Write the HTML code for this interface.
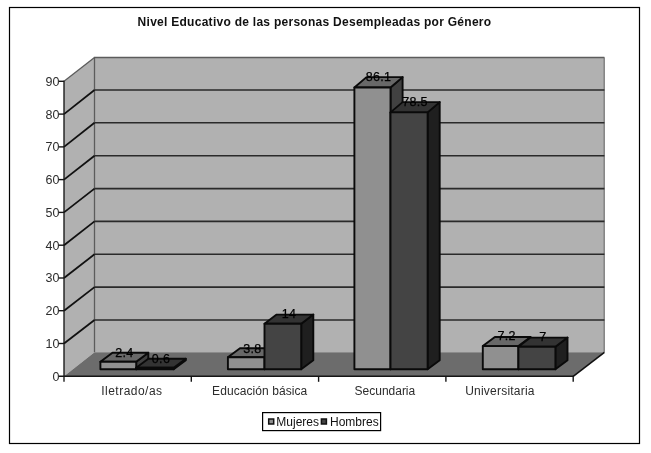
<!DOCTYPE html>
<html><head><meta charset="utf-8"><title>Chart</title>
<style>
html,body{margin:0;padding:0;background:#fff;}
body{width:651px;height:453px;position:relative;overflow:hidden;font-family:"Liberation Sans",sans-serif;}
svg text{font-family:"Liberation Sans",sans-serif;fill:#222;}
.dl{font-size:12.5px;fill:#000;stroke:#000;stroke-width:0.25px;letter-spacing:0.3px;}
.yl{font-size:12.5px;fill:#2c2c2c;}
.cl{font-size:12px;fill:#2c2c2c;}
.lg{font-size:12px;fill:#111;}
.ti{font-size:12px;font-weight:bold;fill:#111;}
</style></head><body>
<svg width="651" height="453" viewBox="0 0 651 453" style="position:absolute;left:0;top:0;will-change:transform">
<rect x="9.5" y="7.5" width="630" height="436" fill="#fff" stroke="#000" stroke-width="1.2"/>
<rect x="94.5" y="57.5" width="509.9" height="294.8" fill="#b1b1b1"/>
<polygon points="64.0,81.3 94.5,57.5 94.5,352.3 64.0,376.3" fill="#b1b1b1"/>
<polyline points="94.5,352.3 94.5,57.5 604.4,57.5" fill="none" stroke="#5c5c5c" stroke-width="1.3"/>
<line x1="604.2" y1="57.5" x2="604.2" y2="352.3" stroke="#6a6a6a" stroke-width="1.1"/>
<line x1="64.0" y1="81.3" x2="94.5" y2="57.5" stroke="#5c5c5c" stroke-width="1.3"/>
<polygon points="64.0,376.3 94.5,352.3 604.4,352.3 573.2,376.3" fill="#6c6c6c"/>
<line x1="94.5" y1="320.0" x2="604.4" y2="320.0" stroke="#2a2a2a" stroke-width="1.6"/>
<line x1="64.0" y1="343.5" x2="94.5" y2="320.0" stroke="#111" stroke-width="1.8"/>
<line x1="94.5" y1="287.1" x2="604.4" y2="287.1" stroke="#2a2a2a" stroke-width="1.6"/>
<line x1="64.0" y1="310.7" x2="94.5" y2="287.1" stroke="#111" stroke-width="1.8"/>
<line x1="94.5" y1="254.3" x2="604.4" y2="254.3" stroke="#2a2a2a" stroke-width="1.6"/>
<line x1="64.0" y1="278.0" x2="94.5" y2="254.3" stroke="#111" stroke-width="1.8"/>
<line x1="94.5" y1="221.4" x2="604.4" y2="221.4" stroke="#2a2a2a" stroke-width="1.6"/>
<line x1="64.0" y1="245.2" x2="94.5" y2="221.4" stroke="#111" stroke-width="1.8"/>
<line x1="94.5" y1="188.6" x2="604.4" y2="188.6" stroke="#2a2a2a" stroke-width="1.6"/>
<line x1="64.0" y1="212.4" x2="94.5" y2="188.6" stroke="#111" stroke-width="1.8"/>
<line x1="94.5" y1="155.7" x2="604.4" y2="155.7" stroke="#2a2a2a" stroke-width="1.6"/>
<line x1="64.0" y1="179.6" x2="94.5" y2="155.7" stroke="#111" stroke-width="1.8"/>
<line x1="94.5" y1="122.8" x2="604.4" y2="122.8" stroke="#2a2a2a" stroke-width="1.6"/>
<line x1="64.0" y1="146.9" x2="94.5" y2="122.8" stroke="#111" stroke-width="1.8"/>
<line x1="94.5" y1="90.0" x2="604.4" y2="90.0" stroke="#2a2a2a" stroke-width="1.6"/>
<line x1="64.0" y1="114.1" x2="94.5" y2="90.0" stroke="#111" stroke-width="1.8"/>
<line x1="573.2" y1="376.3" x2="604.4" y2="352.3" stroke="#111" stroke-width="1.6"/>
<polygon points="136.2,361.8 148.3,352.8 148.3,360.3 136.2,369.3" fill="#414141" stroke="#0a0a0a" stroke-width="1.9" stroke-linejoin="round"/>
<polygon points="100.4,361.8 112.5,352.8 148.3,352.8 136.2,361.8" fill="#686868" stroke="#0a0a0a" stroke-width="1.9" stroke-linejoin="round"/>
<rect x="100.4" y="361.8" width="35.8" height="7.5" fill="#909090" stroke="#0a0a0a" stroke-width="1.9" stroke-linejoin="round"/>
<polygon points="173.7,367.7 185.8,358.7 185.8,360.3 173.7,369.3" fill="#1f1f1f" stroke="#0a0a0a" stroke-width="1.9" stroke-linejoin="round"/>
<polygon points="136.2,367.7 148.3,358.7 185.8,358.7 173.7,367.7" fill="#333333" stroke="#0a0a0a" stroke-width="1.9" stroke-linejoin="round"/>
<rect x="136.2" y="367.7" width="37.5" height="1.6" fill="#444444" stroke="#0a0a0a" stroke-width="1.9" stroke-linejoin="round"/>
<polygon points="264.5,357.2 276.6,348.2 276.6,360.3 264.5,369.3" fill="#414141" stroke="#0a0a0a" stroke-width="1.9" stroke-linejoin="round"/>
<polygon points="227.9,357.2 240.0,348.2 276.6,348.2 264.5,357.2" fill="#686868" stroke="#0a0a0a" stroke-width="1.9" stroke-linejoin="round"/>
<rect x="227.9" y="357.2" width="36.6" height="12.1" fill="#909090" stroke="#0a0a0a" stroke-width="1.9" stroke-linejoin="round"/>
<polygon points="301.2,323.8 313.3,314.6 313.3,360.3 301.2,369.3" fill="#1f1f1f" stroke="#0a0a0a" stroke-width="1.9" stroke-linejoin="round"/>
<polygon points="264.5,323.8 276.6,314.6 313.3,314.6 301.2,323.8" fill="#333333" stroke="#0a0a0a" stroke-width="1.9" stroke-linejoin="round"/>
<rect x="264.5" y="323.8" width="36.7" height="45.5" fill="#444444" stroke="#0a0a0a" stroke-width="1.9" stroke-linejoin="round"/>
<polygon points="390.5,87.5 402.6,77.1 402.6,360.3 390.5,369.3" fill="#414141" stroke="#0a0a0a" stroke-width="1.9" stroke-linejoin="round"/>
<polygon points="354.4,87.5 366.5,77.1 402.6,77.1 390.5,87.5" fill="#686868" stroke="#0a0a0a" stroke-width="1.9" stroke-linejoin="round"/>
<rect x="354.4" y="87.5" width="36.1" height="281.8" fill="#909090" stroke="#0a0a0a" stroke-width="1.9" stroke-linejoin="round"/>
<polygon points="427.6,112.4 439.7,102.1 439.7,360.3 427.6,369.3" fill="#1f1f1f" stroke="#0a0a0a" stroke-width="1.9" stroke-linejoin="round"/>
<polygon points="390.5,112.4 402.6,102.1 439.7,102.1 427.6,112.4" fill="#333333" stroke="#0a0a0a" stroke-width="1.9" stroke-linejoin="round"/>
<rect x="390.5" y="112.4" width="37.1" height="256.9" fill="#444444" stroke="#0a0a0a" stroke-width="1.9" stroke-linejoin="round"/>
<polygon points="518.4,346.1 530.5,337.0 530.5,360.3 518.4,369.3" fill="#414141" stroke="#0a0a0a" stroke-width="1.9" stroke-linejoin="round"/>
<polygon points="482.8,346.1 494.9,337.0 530.5,337.0 518.4,346.1" fill="#686868" stroke="#0a0a0a" stroke-width="1.9" stroke-linejoin="round"/>
<rect x="482.8" y="346.1" width="35.6" height="23.2" fill="#909090" stroke="#0a0a0a" stroke-width="1.9" stroke-linejoin="round"/>
<polygon points="555.4,346.8 567.5,337.6 567.5,360.3 555.4,369.3" fill="#1f1f1f" stroke="#0a0a0a" stroke-width="1.9" stroke-linejoin="round"/>
<polygon points="518.4,346.8 530.5,337.6 567.5,337.6 555.4,346.8" fill="#333333" stroke="#0a0a0a" stroke-width="1.9" stroke-linejoin="round"/>
<rect x="518.4" y="346.8" width="37.0" height="22.5" fill="#444444" stroke="#0a0a0a" stroke-width="1.9" stroke-linejoin="round"/>
<line x1="64.0" y1="80.8" x2="64.0" y2="381.8" stroke="#151515" stroke-width="1.35"/>
<line x1="58.7" y1="376.3" x2="574.0" y2="376.3" stroke="#151515" stroke-width="1.6"/>
<line x1="58.7" y1="343.5" x2="64.0" y2="343.5" stroke="#151515" stroke-width="1.4"/>
<line x1="58.7" y1="310.7" x2="64.0" y2="310.7" stroke="#151515" stroke-width="1.4"/>
<line x1="58.7" y1="278.0" x2="64.0" y2="278.0" stroke="#151515" stroke-width="1.4"/>
<line x1="58.7" y1="245.2" x2="64.0" y2="245.2" stroke="#151515" stroke-width="1.4"/>
<line x1="58.7" y1="212.4" x2="64.0" y2="212.4" stroke="#151515" stroke-width="1.4"/>
<line x1="58.7" y1="179.6" x2="64.0" y2="179.6" stroke="#151515" stroke-width="1.4"/>
<line x1="58.7" y1="146.9" x2="64.0" y2="146.9" stroke="#151515" stroke-width="1.4"/>
<line x1="58.7" y1="114.1" x2="64.0" y2="114.1" stroke="#151515" stroke-width="1.4"/>
<line x1="58.7" y1="81.3" x2="64.0" y2="81.3" stroke="#151515" stroke-width="1.4"/>
<line x1="191.3" y1="376.3" x2="191.3" y2="381.8" stroke="#151515" stroke-width="1.4"/>
<line x1="318.6" y1="376.3" x2="318.6" y2="381.8" stroke="#151515" stroke-width="1.4"/>
<line x1="445.9" y1="376.3" x2="445.9" y2="381.8" stroke="#151515" stroke-width="1.4"/>
<line x1="573.2" y1="376.3" x2="573.2" y2="381.8" stroke="#151515" stroke-width="1.4"/>
<text x="124.4" y="356.6" text-anchor="middle" class="dl">2.4</text>
<text x="161.0" y="362.6" text-anchor="middle" class="dl">0.6</text>
<text x="252.3" y="353.1" text-anchor="middle" class="dl">3.8</text>
<text x="288.9" y="317.8" text-anchor="middle" class="dl">14</text>
<text x="378.5" y="81.2" text-anchor="middle" class="dl">86.1</text>
<text x="415.1" y="105.9" text-anchor="middle" class="dl">78.5</text>
<text x="506.7" y="340.4" text-anchor="middle" class="dl">7.2</text>
<text x="542.9" y="340.6" text-anchor="middle" class="dl">7</text>
<text x="59.5" y="380.7" text-anchor="end" class="yl">0</text>
<text x="59.5" y="347.9" text-anchor="end" class="yl">10</text>
<text x="59.5" y="315.1" text-anchor="end" class="yl">20</text>
<text x="59.5" y="282.4" text-anchor="end" class="yl">30</text>
<text x="59.5" y="249.6" text-anchor="end" class="yl">40</text>
<text x="59.5" y="216.8" text-anchor="end" class="yl">50</text>
<text x="59.5" y="184.0" text-anchor="end" class="yl">60</text>
<text x="59.5" y="151.3" text-anchor="end" class="yl">70</text>
<text x="59.5" y="118.5" text-anchor="end" class="yl">80</text>
<text x="59.5" y="85.7" text-anchor="end" class="yl">90</text>
<text x="101.2" y="394.5" textLength="60.9" lengthAdjust="spacing" class="cl">Iletrado/as</text>
<text x="212.1" y="394.5" textLength="95.1" lengthAdjust="spacing" class="cl">Educación básica</text>
<text x="354.59999999999997" y="394.5" textLength="60.6" lengthAdjust="spacing" class="cl">Secundaria</text>
<text x="465.2" y="394.5" textLength="69.3" lengthAdjust="spacing" class="cl">Universitaria</text>
<text x="137.6" y="26" textLength="353.5" lengthAdjust="spacing" class="ti">Nivel Educativo de las personas Desempleadas por Género</text>
<rect x="262.6" y="412.6" width="118" height="18" fill="#fff" stroke="#000" stroke-width="1.2"/>
<rect x="268.7" y="419" width="5" height="5" fill="#909090" stroke="#111" stroke-width="1.5"/>
<rect x="321.4" y="419" width="5" height="5" fill="#444444" stroke="#111" stroke-width="1.5"/>
<text x="276.3" y="425.8" class="lg">Mujeres</text>
<text x="330" y="425.8" class="lg">Hombres</text>
</svg>
</body></html>
